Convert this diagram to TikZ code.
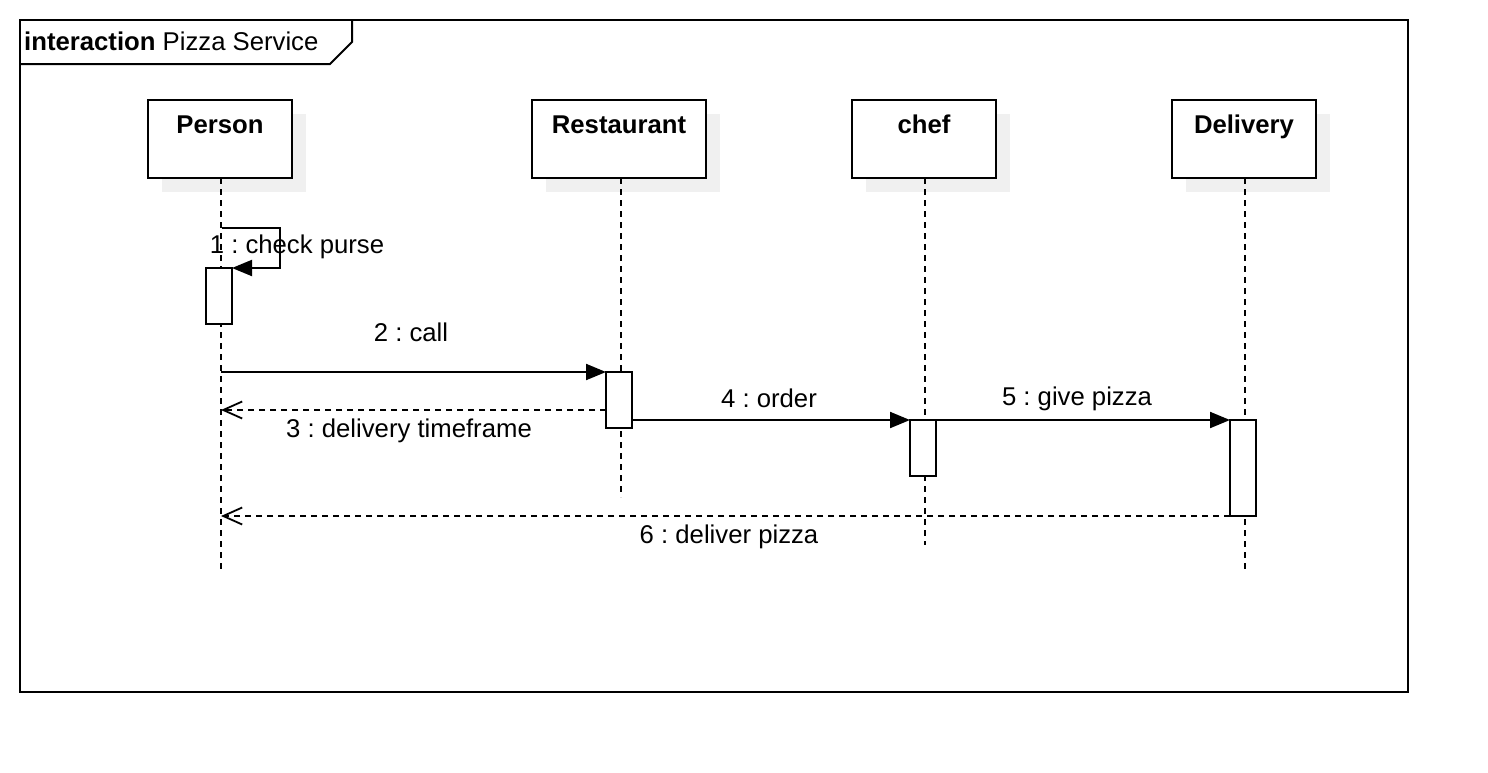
\documentclass[tikz,border=0pt]{standalone}
\usepackage{fontspec}
\setmainfont{Liberation Sans}
\usetikzlibrary{arrows.meta}
\frenchspacing
\tikzset{
  txt/.style={font=\fontsize{25.7}{30}\selectfont, inner sep=0pt, anchor=base},
  objbox/.style={draw, line width=2pt, fill=white, minimum width=144pt, minimum height=78pt, inner sep=0pt, outer sep=0pt, anchor=north west},
  objshadow/.style={fill=black!6, draw=none},
  objname/.style={txt, font=\fontsize{25.7}{30}\selectfont\bfseries},
  act/.style={draw, line width=2pt, fill=white, minimum width=26pt, inner sep=0pt, outer sep=0pt, anchor=north west},
  life/.style={line width=2pt, dash pattern=on 6pt off 5pt},
  msg/.style={line width=2pt, -{Triangle[length=20pt,width=16pt]}},
  ret/.style={line width=2pt, dash pattern=on 6pt off 5pt, -{Straight Barb[length=19pt,width=17pt,line width=1.8pt]}},
}
\begin{document}
\begin{tikzpicture}[x=1pt,y=-1pt]
\useasboundingbox (0,0) rectangle (1488,772);
% frame
\node[draw, line width=2pt, minimum width=1388pt, minimum height=672pt, inner sep=0pt, outer sep=0pt, anchor=north west] (frame) at (20,20) {};
\draw[line width=2pt] (frame.north west) ++(332,0) -- ++(0,22) -- ++(-22,22) -- (20,64);
\node[txt, anchor=base west] (title) at (24,50) {\textbf{interaction} Pizza Service};
% shadows
\fill[objshadow] (162,114) rectangle (306,192);
\fill[objshadow] (546,114) rectangle (720,192);
\fill[objshadow] (866,114) rectangle (1010,192);
\fill[objshadow] (1186,114) rectangle (1330,192);
% object boxes
\node[objbox] (p) at (148,100) {};
\node[objbox, minimum width=174pt] (r) at (532,100) {};
\node[objbox] (c) at (852,100) {};
\node[objbox] (d) at (1172,100) {};
\node[objname] (pn) at (220,133) {Person};
\node[objname] (rn) at (619,133) {Restaurant};
\node[objname] (cn) at (924,133) {chef};
\node[objname] (dn) at (1244,133) {Delivery};
% lifeline ends
\coordinate (pend) at (221,570);
\coordinate (rend) at (621,497);
\coordinate (cend) at (925,545);
\coordinate (dend) at (1245,570);
\draw[life] (p.south -| pend) -- (pend);
\draw[life] (r.south -| rend) -- (rend);
\draw[life] (c.south -| cend) -- (cend);
\draw[life] (d.south -| dend) -- (dend);
% activations
\node[act, minimum height=56pt] (pa) at (206,268) {};
\node[act, minimum height=56pt] (ra) at (606,372) {};
\node[act, minimum height=56pt] (ca) at (910,420) {};
\node[act, minimum height=96pt] (da) at (1230,420) {};
% 1 self message
\coordinate (s1) at (222,228);
\draw[msg] (s1) -- (280,228) -- (280,268) -- (pa.north east);
\node[txt] (l1) at (297,253) {1 : check purse};
% 2 call
\draw[msg] (pend |- ra.north west) -- (ra.north west);
\node[txt] (l2) at (411,341) {2 : call};
% 3 delivery timeframe
\coordinate (s3) at (606,410);
\draw[ret] (s3) -- (pend |- s3);
\node[txt] (l3) at (409,437) {3 : delivery timeframe};
% 4 order
\draw[msg] (ra.east |- ca.north west) -- (ca.north west);
\node[txt] (l4) at (769,407) {4 : order};
% 5 give pizza
\draw[msg] (ca.north east) -- (da.north west);
\node[txt] (l5) at (1077,405) {5 : give pizza};
% 6 deliver pizza
\draw[ret] (da.south west) -- (pend |- da.south west);
\node[txt] (l6) at (729,543) {6 : deliver pizza};
\end{tikzpicture}
\end{document}
